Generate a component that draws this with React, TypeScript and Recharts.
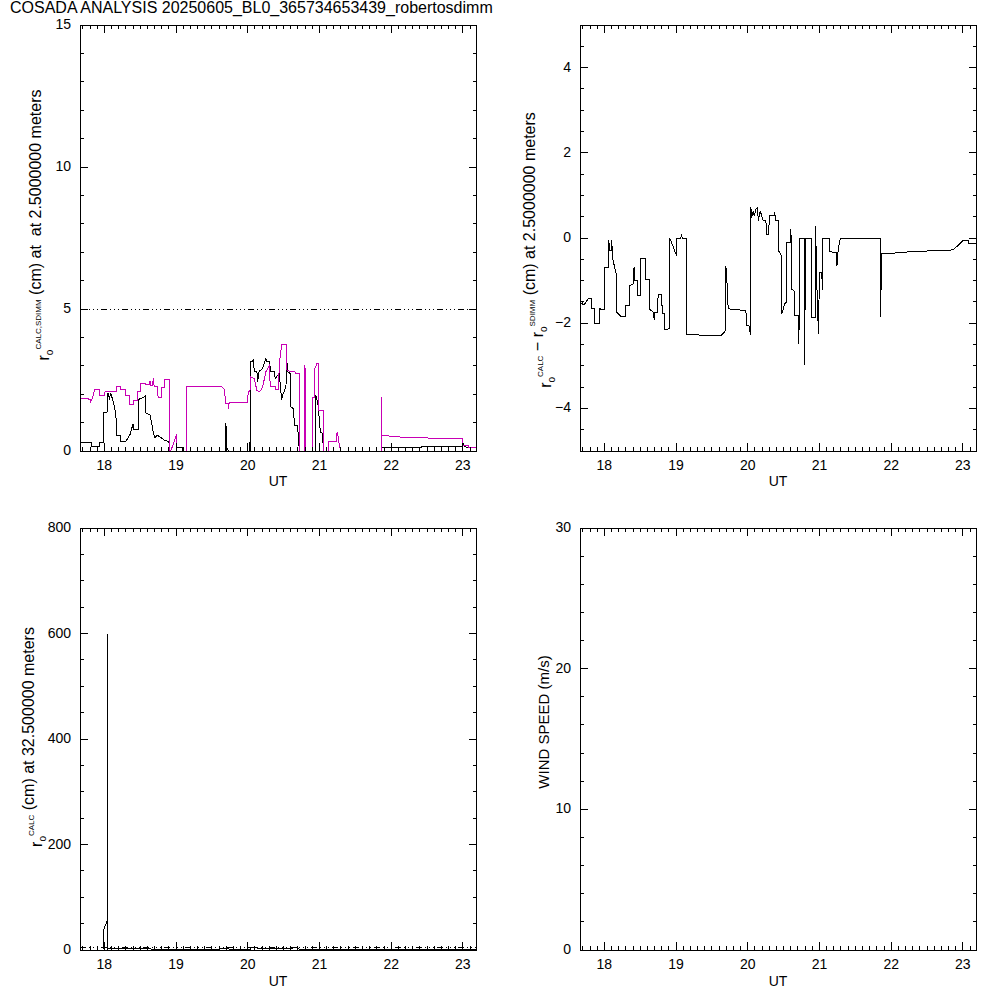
import { LineChart, Line, XAxis, YAxis, ReferenceLine } from 'recharts';

const FONT = '"Liberation Sans", Arial, Helvetica, sans-serif';
const BLACK = '#000000';
const MAGENTA = '#c800b4';

// UT hours, shared by every panel
const utRange: [number, number] = [17.66, 23.19];
const utLabels = [18, 19, 20, 21, 22, 23];

// top left: r0 calc (black) and r0 sdimm (magenta) at 2.5 m, cm
const r0CalcLow: [number, number][] = [
  [17.66, 0.29], [17.82, 0.29], [17.82, 0.15], [17.93, 0.15], [17.93, 0.29], [17.99, 0.29],
  [17.99, 1.34], [18.05, 1.38], [18.05, 2.03], [18.07, 1.85], [18.09, 2.03], [18.11, 1.85],
  [18.13, 1.67], [18.16, 1.32], [18.17, 0.55], [18.23, 0.55], [18.23, 0.32], [18.29, 0.32],
  [18.3, 0.34], [18.36, 0.59], [18.4, 0.96], [18.41, 0.75], [18.47, 0.75], [18.47, 1.81],
  [18.51, 1.85], [18.57, 1.93], [18.58, 1.34], [18.64, 1.26], [18.68, 0.67], [18.7, 0.47],
  [18.74, 0.55], [18.79, 0.47], [18.84, 0.38], [18.9, 0.32], [18.91, 0], [19.01, 0],
  [19.01, 0.14], [19.09, 0.14], [19.09, 0], [19.69, 0], [19.69, 1.0], [19.7, 0.79],
  [19.71, 0.1], [19.73, 0], [20.02, 0], [20.02, 0.32], [20.03, 0], [20.04, 0],
  [20.044, 3.16], [20.067, 3.16], [20.081, 3.22], [20.09, 2.79], [20.127, 2.81], [20.137, 2.44],
  [20.16, 2.85], [20.183, 2.85], [20.207, 2.91], [20.23, 3.08], [20.253, 3.26], [20.267, 3.14],
  [20.3, 3.14], [20.323, 2.79], [20.369, 2.79], [20.383, 2.55], [20.416, 2.67], [20.439, 2.73],
  [20.472, 1.79], [20.486, 1.96], [20.532, 2.26], [20.546, 3.14], [20.556, 2.79], [20.593, 2.73],
  [20.602, 1.55], [20.639, 1.49], [20.649, 0.91], [20.695, 0.88], [20.719, 0], [20.947, 0],
  [20.947, 1.96], [20.975, 1.73], [20.989, 1.38], [21.012, 0.67], [21.044, 0.61], [21.054, 0],
  [21.868, 0], [21.868, 0.12], [21.999, 0.12], [21.999, 0.29], [22.004, 0.12], [22.418, 0.12],
  [22.418, 0.16], [23.0, 0.16], [23.0, 0.29], [23.023, 0.16], [23.079, 0.11], [23.186, 0.11],
];

const r0SdimmLow: [number, number][] = [
  [17.66, 1.85], [17.772, 1.85], [17.772, 1.81], [17.809, 1.81], [17.809, 1.75], [17.832, 1.85],
  [17.865, 2.18], [17.935, 2.18], [17.935, 1.96], [17.995, 1.96], [17.995, 2.06], [18.051, 2.11],
  [18.172, 2.11], [18.172, 2.26], [18.228, 2.26], [18.228, 2.18], [18.289, 2.18], [18.289, 1.96],
  [18.345, 1.96], [18.345, 1.65], [18.405, 1.65], [18.405, 1.79], [18.461, 1.79], [18.461, 2.08],
  [18.507, 2.08], [18.507, 2.38], [18.568, 2.38], [18.568, 2.34], [18.624, 2.34], [18.624, 2.44],
  [18.647, 2.44], [18.647, 2.32], [18.67, 2.32], [18.684, 2.58], [18.694, 2.26], [18.74, 2.26],
  [18.75, 1.87], [18.801, 1.87], [18.801, 2.22], [18.843, 2.22], [18.843, 2.52], [18.912, 2.52],
  [18.912, 0], [18.926, 0], [19.01, 0.6], [19.01, 0], [19.15, 0], [19.15, 2.26],
  [19.634, 2.26], [19.671, 2.18], [19.694, 1.67], [19.732, 1.67], [19.732, 1.49], [19.741, 1.71],
  [19.997, 1.71], [20.006, 2.11], [20.03, 2.11], [20.044, 2.61], [20.09, 2.55], [20.127, 2.14],
  [20.16, 2.08], [20.183, 2.14], [20.207, 2.26], [20.253, 2.79], [20.3, 3.02], [20.314, 2.26],
  [20.393, 2.26], [20.393, 2.18], [20.43, 2.18], [20.439, 3.05], [20.472, 3.75], [20.546, 3.75],
  [20.546, 2.85], [20.593, 2.79], [20.658, 2.79], [20.672, 2.73], [20.719, 2.73], [20.719, 0],
  [20.798, 0], [20.798, 3.02], [20.807, 0], [20.896, 0], [20.896, 1.87], [20.937, 1.87],
  [20.937, 2.91], [20.965, 3.08], [20.993, 3.08], [20.993, 1.44], [21.054, 1.44], [21.054, 0],
  [21.124, 0], [21.124, 0.34], [21.231, 0.34], [21.245, 0.65], [21.263, 0.49], [21.277, 0.2],
  [21.3, 0], [21.859, 0], [21.859, 1.89], [21.868, 0.55], [22.138, 0.49], [22.72, 0.44],
  [23.0, 0.44], [23.0, 0.2], [23.079, 0.2], [23.079, 0.11], [23.186, 0.11],
];

const r0Limit = 5;
const r0Range: [number, number] = [0, 15];
const r0Labels = [0, 5, 10, 15];

// top right: calc minus sdimm
const r0Diff: [number, number][] = [
  [17.66, -1.54], [17.693, -1.52], [17.693, -1.57], [17.725, -1.55], [17.739, -1.52], [17.772, -1.43],
  [17.819, -1.43], [17.819, -1.65], [17.865, -1.65], [17.865, -2.01], [17.93, -2.01], [17.93, -1.65],
  [17.958, -1.68], [17.995, -1.68], [17.995, -0.7], [18.061, -0.7], [18.061, -0.05], [18.074, -0.3],
  [18.093, -0.3], [18.102, -0.05], [18.116, -0.49], [18.163, -0.83], [18.172, -1.74], [18.228, -1.84],
  [18.298, -1.84], [18.298, -1.58], [18.354, -1.58], [18.354, -1.12], [18.4, -1.08], [18.414, -0.67],
  [18.424, -1.0], [18.461, -1.0], [18.461, -1.35], [18.507, -1.35], [18.507, -0.47], [18.568, -0.47],
  [18.577, -0.98], [18.624, -0.98], [18.633, -1.68], [18.684, -1.74], [18.694, -1.92], [18.703, -1.74],
  [18.74, -1.74], [18.75, -1.33], [18.796, -1.33], [18.81, -1.78], [18.843, -1.78], [18.843, -2.15],
  [18.903, -2.13], [18.912, 0], [19.006, -0.41], [19.01, 0], [19.066, 0], [19.075, 0.07],
  [19.089, 0], [19.15, 0], [19.15, -2.27], [19.625, -2.29], [19.671, -2.21], [19.685, -2.17],
  [19.694, -0.65], [19.704, -0.84], [19.727, -1.66], [19.811, -1.68], [19.974, -1.7], [19.983, -2.05],
  [20.021, -2.07], [20.035, -2.27], [20.044, 0.72], [20.053, 0.48], [20.076, 0.64], [20.09, 0.52],
  [20.114, 0.68], [20.137, 0.71], [20.146, 0.4], [20.174, 0.64], [20.207, 0.44], [20.221, 0.4],
  [20.253, 0.4], [20.263, 0.08], [20.286, 0.08], [20.3, 0.4], [20.304, 0.52], [20.374, 0.52],
  [20.374, 0.62], [20.388, 0.42], [20.434, 0.42], [20.434, -0.31], [20.467, -0.41], [20.476, -1.78],
  [20.513, -1.55], [20.537, -1.51], [20.546, -0.1], [20.593, -0.1], [20.602, 0.2], [20.611, -1.2],
  [20.653, -1.25], [20.653, -1.82], [20.714, -1.82], [20.714, -2.48], [20.719, 0], [20.797, 0],
  [20.797, -2.99], [20.8, 0], [20.895, 0], [20.895, -1.86], [20.946, -1.86], [20.946, 0.29],
  [20.96, -0.92], [20.979, -1.93], [20.988, -2.25], [20.998, -0.8], [21.026, -0.8], [21.049, -1.23],
  [21.049, 0], [21.133, 0], [21.133, -0.32], [21.235, -0.34], [21.244, -0.65], [21.258, -0.34],
  [21.282, -0.06], [21.305, 0], [21.854, 0], [21.854, -1.86], [21.864, -0.37], [22.003, -0.36],
  [22.283, -0.32], [22.585, -0.3], [22.865, -0.28], [23.004, -0.06], [23.074, -0.06], [23.074, -0.14],
  [23.19, -0.14],
];
const diffRange: [number, number] = [-5, 5];
const diffLabels = [-4, -2, 0, 2, 4];

// bottom left: r0 calc at 32.5 m
const r0CalcHigh: [number, number][] = [
  [17.99, 1], [17.99, 38], [18.0, 42], [18.035, 54], [18.05, 54], [18.05, 600], [18.05, 2],
  [18.1, 3], [18.17, 2], [18.5, 3], [18.6, 2], [19.0, 1], [19.7, 2],
  [20.03, 1], [20.05, 4], [20.4, 3], [20.7, 4], [20.72, 1], [23.19, 1],
];
const highRange: [number, number] = [0, 800];
const highLabels = [0, 200, 400, 600, 800];

// bottom right: no wind data in this file
const windSpeed: [number, number][] = [];
const windRange: [number, number] = [0, 30];
const windLabels = [0, 10, 20, 30];

function steps(lo: number, hi: number, step: number) {
  const out: number[] = [];
  for (let k = Math.ceil(lo / step - 1e-9); k * step <= hi + 1e-9; k++) out.push(+(k * step).toFixed(4));
  return out;
}

const fmt = (v: number) => (v < 0 ? '\u2212' + Math.abs(v) : String(v));
const isMajor = (v: number, majors: number[]) => majors.some((m) => Math.abs(m - v) < 1e-6);

// IDL style ticks: pointing into the box, labels only on bottom/left
function tickMaker(side: 'bottom' | 'top' | 'left' | 'right', majors: number[]) {
  return (p: any) => {
    const { x, y } = p;
    const v = p.payload.value;
    const big = isMajor(v, majors);
    const len = big ? 8 : 4;
    const txt = { fontSize: 14, fontFamily: FONT, fill: BLACK };
    if (side === 'bottom')
      return (
        <g>
          <line x1={x} x2={x} y1={y} y2={y - len} stroke={BLACK} />
          {big && <text x={x} y={y + 19} textAnchor="middle" {...txt}>{fmt(v)}</text>}
        </g>
      );
    if (side === 'top') return <line x1={x} x2={x} y1={y} y2={y + len} stroke={BLACK} />;
    if (side === 'left')
      return (
        <g>
          <line x1={x} x2={x + len} y1={y} y2={y} stroke={BLACK} />
          {big && <text x={x - 9} y={y + 4} textAnchor="end" {...txt}>{fmt(v)}</text>}
        </g>
      );
    return <line x1={x} x2={x - len} y1={y} y2={y} stroke={BLACK} />;
  };
}

function YTitle({ x, y, size = 16, children }: { x: number; y: number; size?: number; children: any }) {
  return (
    <text
      transform={`translate(${x},${y}) rotate(-90)`}
      textAnchor="middle"
      fontSize={size}
      fontFamily={FONT}
      fill={BLACK}
      style={{ whiteSpace: 'pre' }}
    >
      {children}
    </text>
  );
}

const R0 = ({ sup }: { sup: string }) => (
  <>
    r<tspan dy={4} fontSize={10}>o</tspan>
    <tspan dy={-12} fontSize={8}>{sup}</tspan>
    <tspan dy={8}>{''}</tspan>
  </>
);

type Series = { data: [number, number][]; color: string };

// axis band sizes; margins are reduced by these so the box lands where the reference has it
const AX_L = 20;
const AX_R = 10;
const AX_T = 10;
const AX_B = 20;

function Panel(props: {
  left: number;
  top: number;
  plotTop: number;
  plotHeight: number;
  yRange: [number, number];
  yLabels: number[];
  yMinor: number;
  series: Series[];
  limit?: number;
  title: any;
}) {
  const { left, top, plotTop, plotHeight, yRange, yLabels, yMinor, series, limit, title } = props;
  const xTicks = steps(utRange[0], utRange[1], 0.1);
  const yTicks = steps(yRange[0], yRange[1], yMinor);
  const common = { tickSize: 0, tickMargin: 0, tickLine: false, axisLine: { stroke: BLACK }, interval: 0 as const };
  return (
    <div style={{ position: 'absolute', left, top }}>
      <LineChart
        width={500}
        height={500}
        margin={{
          top: plotTop - AX_T,
          right: 23.5 - AX_R,
          bottom: 500 - plotTop - plotHeight - AX_B,
          left: 80 - AX_L,
        }}
      >
        <XAxis xAxisId="b" type="number" dataKey="t" domain={utRange} allowDataOverflow ticks={xTicks} height={AX_B} {...common} tick={tickMaker('bottom', utLabels)} />
        <XAxis xAxisId="t" orientation="top" type="number" dataKey="t" domain={utRange} allowDataOverflow ticks={xTicks} height={AX_T} {...common} tick={tickMaker('top', utLabels)} />
        <YAxis yAxisId="l" type="number" domain={yRange} allowDataOverflow ticks={yTicks} width={AX_L} {...common} tick={tickMaker('left', yLabels)} />
        <YAxis yAxisId="r" orientation="right" type="number" domain={yRange} allowDataOverflow ticks={yTicks} width={AX_R} {...common} tick={tickMaker('right', yLabels)} />
        {limit !== undefined && (
          <ReferenceLine xAxisId="b" yAxisId="l" y={limit} stroke={BLACK} strokeDasharray="6 3 1 3 1 3 1 3" />
        )}
        {series.map((s, i) => (
          <Line
            key={i}
            xAxisId="b"
            yAxisId="l"
            data={s.data.map(([t, v]) => ({ t, v }))}
            dataKey="v"
            type="linear"
            stroke={s.color}
            strokeWidth={1}
            dot={false}
            activeDot={false}
            isAnimationActive={false}
          />
        ))}
        <text x={278} y={486} textAnchor="middle" fontSize={14} fontFamily={FONT} fill={BLACK}>UT</text>
        {title}
      </LineChart>
    </div>
  );
}

export default function App() {
  return (
    <div style={{ position: 'absolute', left: 0, top: 0, width: 1000, height: 1000, background: '#fff' }}>
      <style>{`.recharts-surface line, .recharts-surface path { shape-rendering: crispEdges; }`}</style>
      <div style={{ position: 'absolute', left: 10, top: 0, fontSize: 16, lineHeight: '16px', fontFamily: FONT, whiteSpace: 'nowrap' }}>
        COSADA ANALYSIS 20250605_BL0_365734653439_robertosdimm
      </div>
      <Panel
        left={0}
        top={0}
        plotTop={25}
        plotHeight={426}
        yRange={r0Range}
        yLabels={r0Labels}
        yMinor={1}
        limit={r0Limit}
        series={[
          { data: r0CalcLow, color: BLACK },
          { data: r0SdimmLow, color: MAGENTA },
        ]}
        title={
          <YTitle x={49} y={225}>
            <R0 sup="CALC,SDIMM" />
            {' (cm) at  at 2.5000000 meters'}
          </YTitle>
        }
      />
      <Panel
        left={500}
        top={0}
        plotTop={25}
        plotHeight={426}
        yRange={diffRange}
        yLabels={diffLabels}
        yMinor={0.5}
        series={[{ data: r0Diff, color: BLACK }]}
        title={
          <YTitle x={51} y={250}>
            <R0 sup="CALC" />
            {' \u2212 '}
            <R0 sup="SDIMM" />
            {' (cm) at 2.5000000 meters'}
          </YTitle>
        }
      />
      <Panel
        left={0}
        top={500}
        plotTop={28}
        plotHeight={422}
        yRange={highRange}
        yLabels={highLabels}
        yMinor={50}
        limit={r0Limit}
        series={[{ data: r0CalcHigh, color: BLACK }]}
        title={
          <YTitle x={42} y={237}>
            <R0 sup="CALC" />
            {' (cm) at 32.500000 meters'}
          </YTitle>
        }
      />
      <Panel
        left={500}
        top={500}
        plotTop={28}
        plotHeight={422}
        yRange={windRange}
        yLabels={windLabels}
        yMinor={2}
        series={[{ data: windSpeed, color: BLACK }]}
        title={<YTitle x={49} y={222} size={15}>WIND SPEED (m/s)</YTitle>}
      />
    </div>
  );
}
